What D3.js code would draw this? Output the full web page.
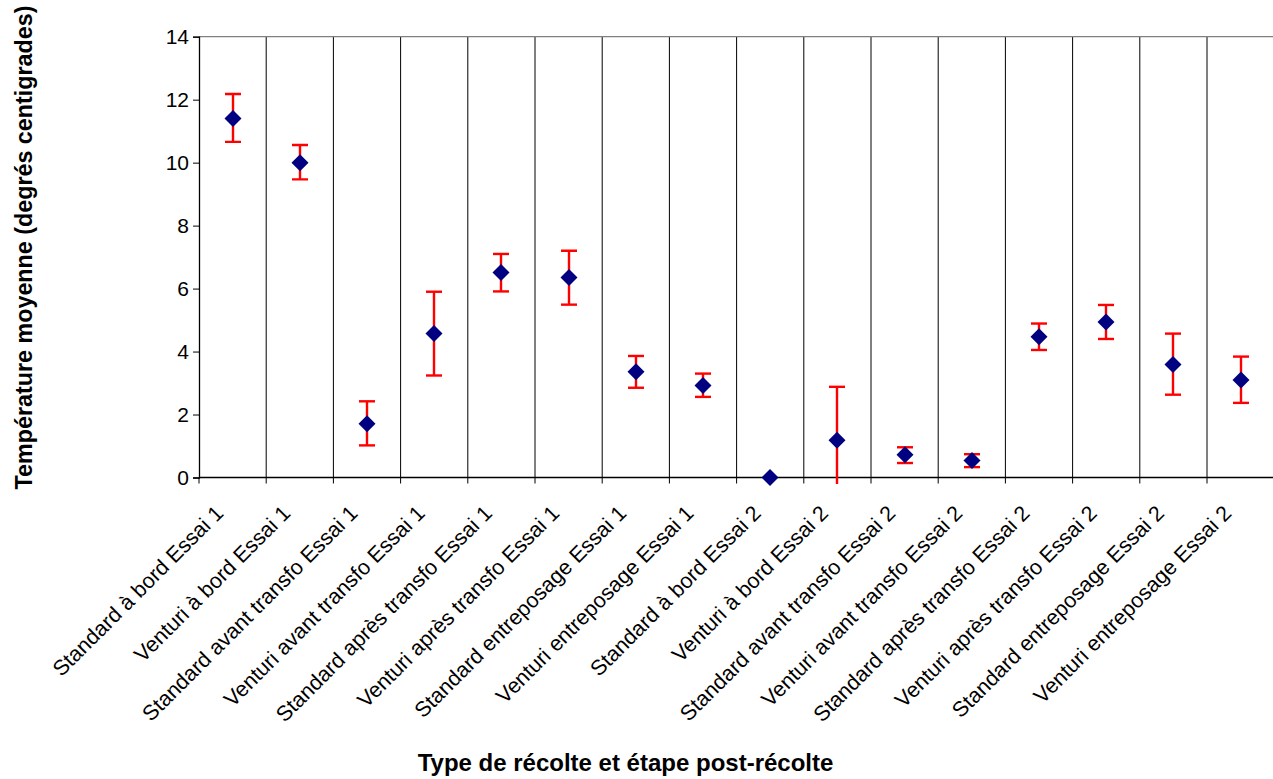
<!DOCTYPE html>
<html>
<head>
<meta charset="utf-8">
<script src="https://cdn.jsdelivr.net/npm/d3@7"></script>
<style>
  html, body { margin: 0; padding: 0; background: #fff; }
  svg { display: block; }
  text { font-family: "Liberation Sans", Arial, sans-serif; }
</style>
</head>
<body>
<svg id="chart" width="1273" height="779"></svg>
<script>
const categories = [
  "Standard à bord Essai 1",
  "Venturi à bord Essai 1",
  "Standard avant transfo Essai 1",
  "Venturi avant transfo Essai 1",
  "Standard après transfo Essai 1",
  "Venturi après transfo Essai 1",
  "Standard entreposage Essai 1",
  "Venturi entreposage Essai 1",
  "Standard à bord Essai 2",
  "Venturi à bord Essai 2",
  "Standard avant transfo Essai 2",
  "Venturi avant transfo Essai 2",
  "Standard après transfo Essai 2",
  "Venturi après transfo Essai 2",
  "Standard entreposage Essai 2",
  "Venturi entreposage Essai 2"
];
const meanTemp = [11.40, 10.00, 1.71, 4.57, 6.51, 6.35, 3.36, 2.92, 0.00, 1.18, 0.72, 0.54, 4.47, 4.94, 3.59, 3.10];
const errLow   = [10.66, 9.47, 1.02, 3.24, 5.91, 5.49, 2.85, 2.56, 0.00, -0.60, 0.46, 0.33, 4.05, 4.40, 2.63, 2.37];
const errHigh  = [12.18, 10.56, 2.42, 5.90, 7.10, 7.20, 3.86, 3.30, 0.00, 2.88, 0.96, 0.74, 4.89, 5.48, 4.57, 3.84];
const yTicks = [0, 2, 4, 6, 8, 10, 12, 14];
const yTitle = "Température moyenne (degrés centigrades)";
const xTitle = "Type de récolte et étape post-récolte";

(function () {
const svg = d3.select("#chart");
const pLeft = 199, pTop = 36.7, pBottom = 477.5, band = 67.2;
const pRight = pLeft + band * categories.length;

const x = d3.scaleBand().domain(categories).range([pLeft, pRight]).paddingInner(0).paddingOuter(0);
const y = d3.scaleLinear().domain([0, 14]).range([pBottom, pTop]);

// vertical gridlines at category boundaries
const bounds = d3.range(categories.length + 1).map(i => pLeft + i * x.bandwidth());
svg.append("g").selectAll("line").data(bounds.slice(1)).join("line")
  .attr("x1", d => d).attr("x2", d => d)
  .attr("y1", pTop).attr("y2", pBottom)
  .attr("stroke", "#000").attr("stroke-width", 1);

// top border
svg.append("line").attr("x1", pLeft).attr("x2", pRight).attr("y1", pTop).attr("y2", pTop)
  .attr("stroke", "#808080").attr("stroke-width", 1.3);

// y axis
const yAxis = svg.append("g").attr("transform", `translate(${pLeft},0)`)
  .call(d3.axisLeft(y).tickValues(yTicks).tickSize(6).tickPadding(4).tickFormat(d3.format("d")));
yAxis.select(".domain").attr("stroke", "#000").attr("stroke-width", 1.3);
yAxis.selectAll(".tick line").attr("stroke", "#000");
yAxis.selectAll(".tick text").attr("font-size", "21px").attr("fill", "#000")
  .attr("font-family", "Liberation Sans, Arial, sans-serif");

// x axis line and ticks at boundaries
svg.append("line").attr("x1", pLeft).attr("x2", pRight).attr("y1", pBottom).attr("y2", pBottom)
  .attr("stroke", "#000").attr("stroke-width", 1.3);
svg.append("g").selectAll("line").data(bounds).join("line")
  .attr("x1", d => d).attr("x2", d => d).attr("y1", pBottom).attr("y2", pBottom + 6)
  .attr("stroke", "#000");

// category labels
svg.append("g").selectAll("text").data(categories).join("text")
  .attr("transform", d => `translate(${x(d) + x.bandwidth() / 2 - 8},${pBottom + 37}) rotate(-45)`)
  .attr("text-anchor", "end")
  .attr("font-size", "21.5px")
  .attr("fill", "#000")
  .text(d => d);

// error bars (clipped)
svg.append("clipPath").attr("id", "clip").append("rect")
  .attr("x", pLeft).attr("y", pTop - 10).attr("width", pRight - pLeft).attr("height", pBottom - pTop + 16.5);
const eb = svg.append("g").attr("clip-path", "url(#clip)");
const cap = 8;
categories.forEach((c, i) => {
  if (errHigh[i] === errLow[i]) return;
  const cx = Math.round(x(c) + x.bandwidth() / 2);
  eb.append("line").attr("x1", cx).attr("x2", cx).attr("y1", y(errLow[i])).attr("y2", y(errHigh[i]))
    .attr("stroke", "#FF0000").attr("stroke-width", 2.4);
  [errLow[i], errHigh[i]].forEach(v => {
    eb.append("line").attr("x1", cx - cap).attr("x2", cx + cap).attr("y1", y(v)).attr("y2", y(v))
      .attr("stroke", "#FF0000").attr("stroke-width", 2.4);
  });
});

// diamond markers
const r = 8.5;
svg.append("g").selectAll("path").data(categories).join("path")
  .attr("d", (d, i) => {
    const cx = Math.round(x(d) + x.bandwidth() / 2), cy = y(meanTemp[i]);
    return `M${cx},${cy - r}L${cx + r},${cy}L${cx},${cy + r}L${cx - r},${cy}Z`;
  })
  .attr("fill", "#000080");

// axis titles
svg.append("text").attr("x", 625.5).attr("y", 771).attr("text-anchor", "middle")
  .attr("font-size", "24px").attr("font-weight", "bold").attr("fill", "#000").text(xTitle);
svg.append("text").attr("transform", `translate(32,${247.5}) rotate(-90)`).attr("text-anchor", "middle")
  .attr("font-size", "23.3px").attr("font-weight", "bold").attr("fill", "#000").text(yTitle);
})();
</script>
</body>
</html>
